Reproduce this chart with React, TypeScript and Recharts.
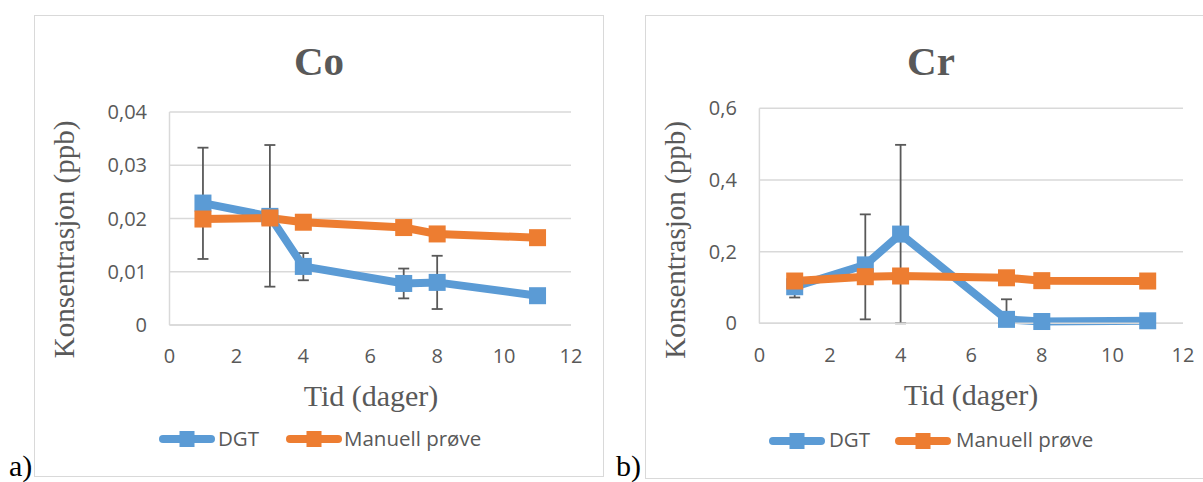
import React from "react";
import { LineChart, Line, XAxis, YAxis, CartesianGrid, ErrorBar } from "recharts";

// sampling days (x values)
const days = [1, 3, 4, 7, 8, 11];
const xTicks = [0, 2, 4, 6, 8, 10, 12];

// Co (ppb)
const coDgt = [0.0229, 0.0204, 0.011, 0.0078, 0.008, 0.0055];
const coManuell = [0.0199, 0.0201, 0.0193, 0.0183, 0.0171, 0.0164];
const coDgtErr: [number, number][] = [
  [0.0105, 0.0104],
  [0.0132, 0.0134],
  [0.0026, 0.0025],
  [0.0028, 0.0028],
  [0.005, 0.005],
  [0, 0],
];
const coTicks = [0, 0.01, 0.02, 0.03, 0.04];

// Cr (ppb)
const crDgt = [0.102, 0.163, 0.249, 0.011, 0.005, 0.007];
const crManuell = [0.118, 0.13, 0.132, 0.127, 0.119, 0.118];
const crDgtErr: [number, number][] = [
  [0.03, 0.03],
  [0.152, 0.141],
  [0.249, 0.249],
  [0.011, 0.056],
  [0, 0],
  [0, 0],
];
const crTicks = [0, 0.2, 0.4, 0.6];

const BLUE = "#5B9BD5";
const ORANGE = "#ED7D31";
const GRAY = "#595959";
const GRID = "#d9d9d9";
const TICK_FONT = "'Open Sans', sans-serif";
const SERIF = "'Liberation Serif', 'Times New Roman', serif";

const build = (dgt: number[], man: number[], err: [number, number][]) =>
  days.map((d, i) => ({ day: d, dgt: dgt[i], manuell: man[i], dgtErr: err[i] }));

const squareDot = (color: string) => (props: any) => {
  const { cx, cy, index } = props;
  if (cx == null || cy == null) return <g key={index} />;
  return <rect key={index} x={cx - 8.5} y={cy - 8.5} width={17} height={17} fill={color} />;
};

const fmt = (v: number) => String(v).replace(".", ",");

interface PanelProps {
  left: number;
  width: number;
  margin: { top: number; right: number; bottom: number; left: number };
  data: any[];
  yMax: number;
  yTicks: number[];
}

function Panel({ left, width, margin, data, yMax, yTicks }: PanelProps) {
  const tick = { fill: GRAY, fontSize: 20, fontFamily: TICK_FONT };
  return (
    <div style={{ position: "absolute", left, top: 0 }}>
      <LineChart width={width} height={482} data={data} margin={margin}>
        <CartesianGrid vertical={false} stroke={GRID} strokeWidth={1.5} />
        <XAxis
          dataKey="day"
          type="number"
          domain={[0, 12]}
          ticks={xTicks}
          height={30}
          tick={tick}
          tickLine={false}
          axisLine={{ stroke: GRID, strokeWidth: 1.5 }}
          tickMargin={18}
          interval={0}
        />
        <YAxis
          type="number"
          domain={[0, yMax]}
          ticks={yTicks}
          width={40}
          tick={tick}
          tickLine={false}
          axisLine={{ stroke: GRID, strokeWidth: 1.5 }}
          tickMargin={16.5}
          tickFormatter={fmt}
          interval={0}
        />
        <Line
          dataKey="dgt"
          stroke={BLUE}
          strokeWidth={8}
          dot={squareDot(BLUE)}
          activeDot={false}
          isAnimationActive={false}
        >
          <ErrorBar dataKey="dgtErr" direction="y" width={5.5} stroke={GRAY} strokeWidth={1.8} />
        </Line>
        <Line
          dataKey="manuell"
          stroke={ORANGE}
          strokeWidth={8}
          dot={squareDot(ORANGE)}
          activeDot={false}
          isAnimationActive={false}
        />
      </LineChart>
    </div>
  );
}

function LegendSwatch({ x, y, color }: { x: number; y: number; color: string }) {
  return (
    <g>
      <line x1={x + 4} x2={x + 52} y1={y} y2={y} stroke={color} strokeWidth={8} strokeLinecap="round" />
      <rect x={x + 20.5} y={y - 8} width={15} height={16} fill={color} />
    </g>
  );
}

function Overlay() {
  const lbl = { fontFamily: SERIF, fill: GRAY, fontSize: 30 };
  const title = { ...lbl, fontSize: 41, fontWeight: "bold" as const };
  const leg = { fontFamily: TICK_FONT, fill: GRAY, fontSize: 20.5 };
  return (
    <svg
      width={1203}
      height={482}
      style={{ position: "absolute", left: 0, top: 0, pointerEvents: "none" }}
    >
      {/* left panel */}
      <text x={319} y={75} textAnchor="middle" style={title}>
        Co
      </text>
      <text transform="translate(74,239.5) rotate(-90)" textAnchor="middle" style={{ ...lbl, fontSize: 29 }}>
        Konsentrasjon (ppb)
      </text>
      <text x={371} y={406} textAnchor="middle" style={lbl}>
        Tid (dager)
      </text>
      <LegendSwatch x={159} y={439} color={BLUE} />
      <text x={218} y={446} style={leg}>DGT</text>
      <LegendSwatch x={286} y={439} color={ORANGE} />
      <text x={344} y={446} style={leg}>Manuell prøve</text>
      <text x={9} y={476} style={{ ...lbl, fill: "#000" }}>a)</text>

      {/* right panel */}
      <text x={931} y={75} textAnchor="middle" style={title}>
        Cr
      </text>
      <text transform="translate(685,240) rotate(-90)" textAnchor="middle" style={{ ...lbl, fontSize: 29 }}>
        Konsentrasjon (ppb)
      </text>
      <text x={971} y={405} textAnchor="middle" style={lbl}>
        Tid (dager)
      </text>
      <LegendSwatch x={769} y={441} color={BLUE} />
      <text x={829} y={447} style={leg}>DGT</text>
      <LegendSwatch x={895} y={441} color={ORANGE} />
      <text x={956} y={447} style={leg}>Manuell prøve</text>
      <text x={616} y={476} style={{ ...lbl, fill: "#000" }}>b)</text>
    </svg>
  );
}

export default function App() {
  const coData = build(coDgt, coManuell, coDgtErr);
  const crData = build(crDgt, crManuell, crDgtErr);
  return (
    <div
      style={{
        position: "fixed",
        left: 0,
        top: 0,
        width: 1203,
        height: 482,
        overflow: "hidden",
        background: "#fff",
      }}
    >
      <div
        style={{
          position: "absolute",
          left: 34,
          top: 15,
          width: 570,
          height: 462,
          border: `1.5px solid ${GRID}`,
          boxSizing: "border-box",
        }}
      />
      <div
        style={{
          position: "absolute",
          left: 645,
          top: 15,
          width: 580,
          height: 464,
          border: `1.5px solid ${GRID}`,
          boxSizing: "border-box",
        }}
      />
      <Panel
        left={0}
        width={610}
        margin={{ top: 112, right: 39, bottom: 127, left: 129.5 }}
        data={coData}
        yMax={0.04}
        yTicks={coTicks}
      />
      <Panel
        left={610}
        width={593}
        margin={{ top: 108.3, right: 20, bottom: 128.7, left: 109.4 }}
        data={crData}
        yMax={0.6}
        yTicks={crTicks}
      />
      <Overlay />
    </div>
  );
}
